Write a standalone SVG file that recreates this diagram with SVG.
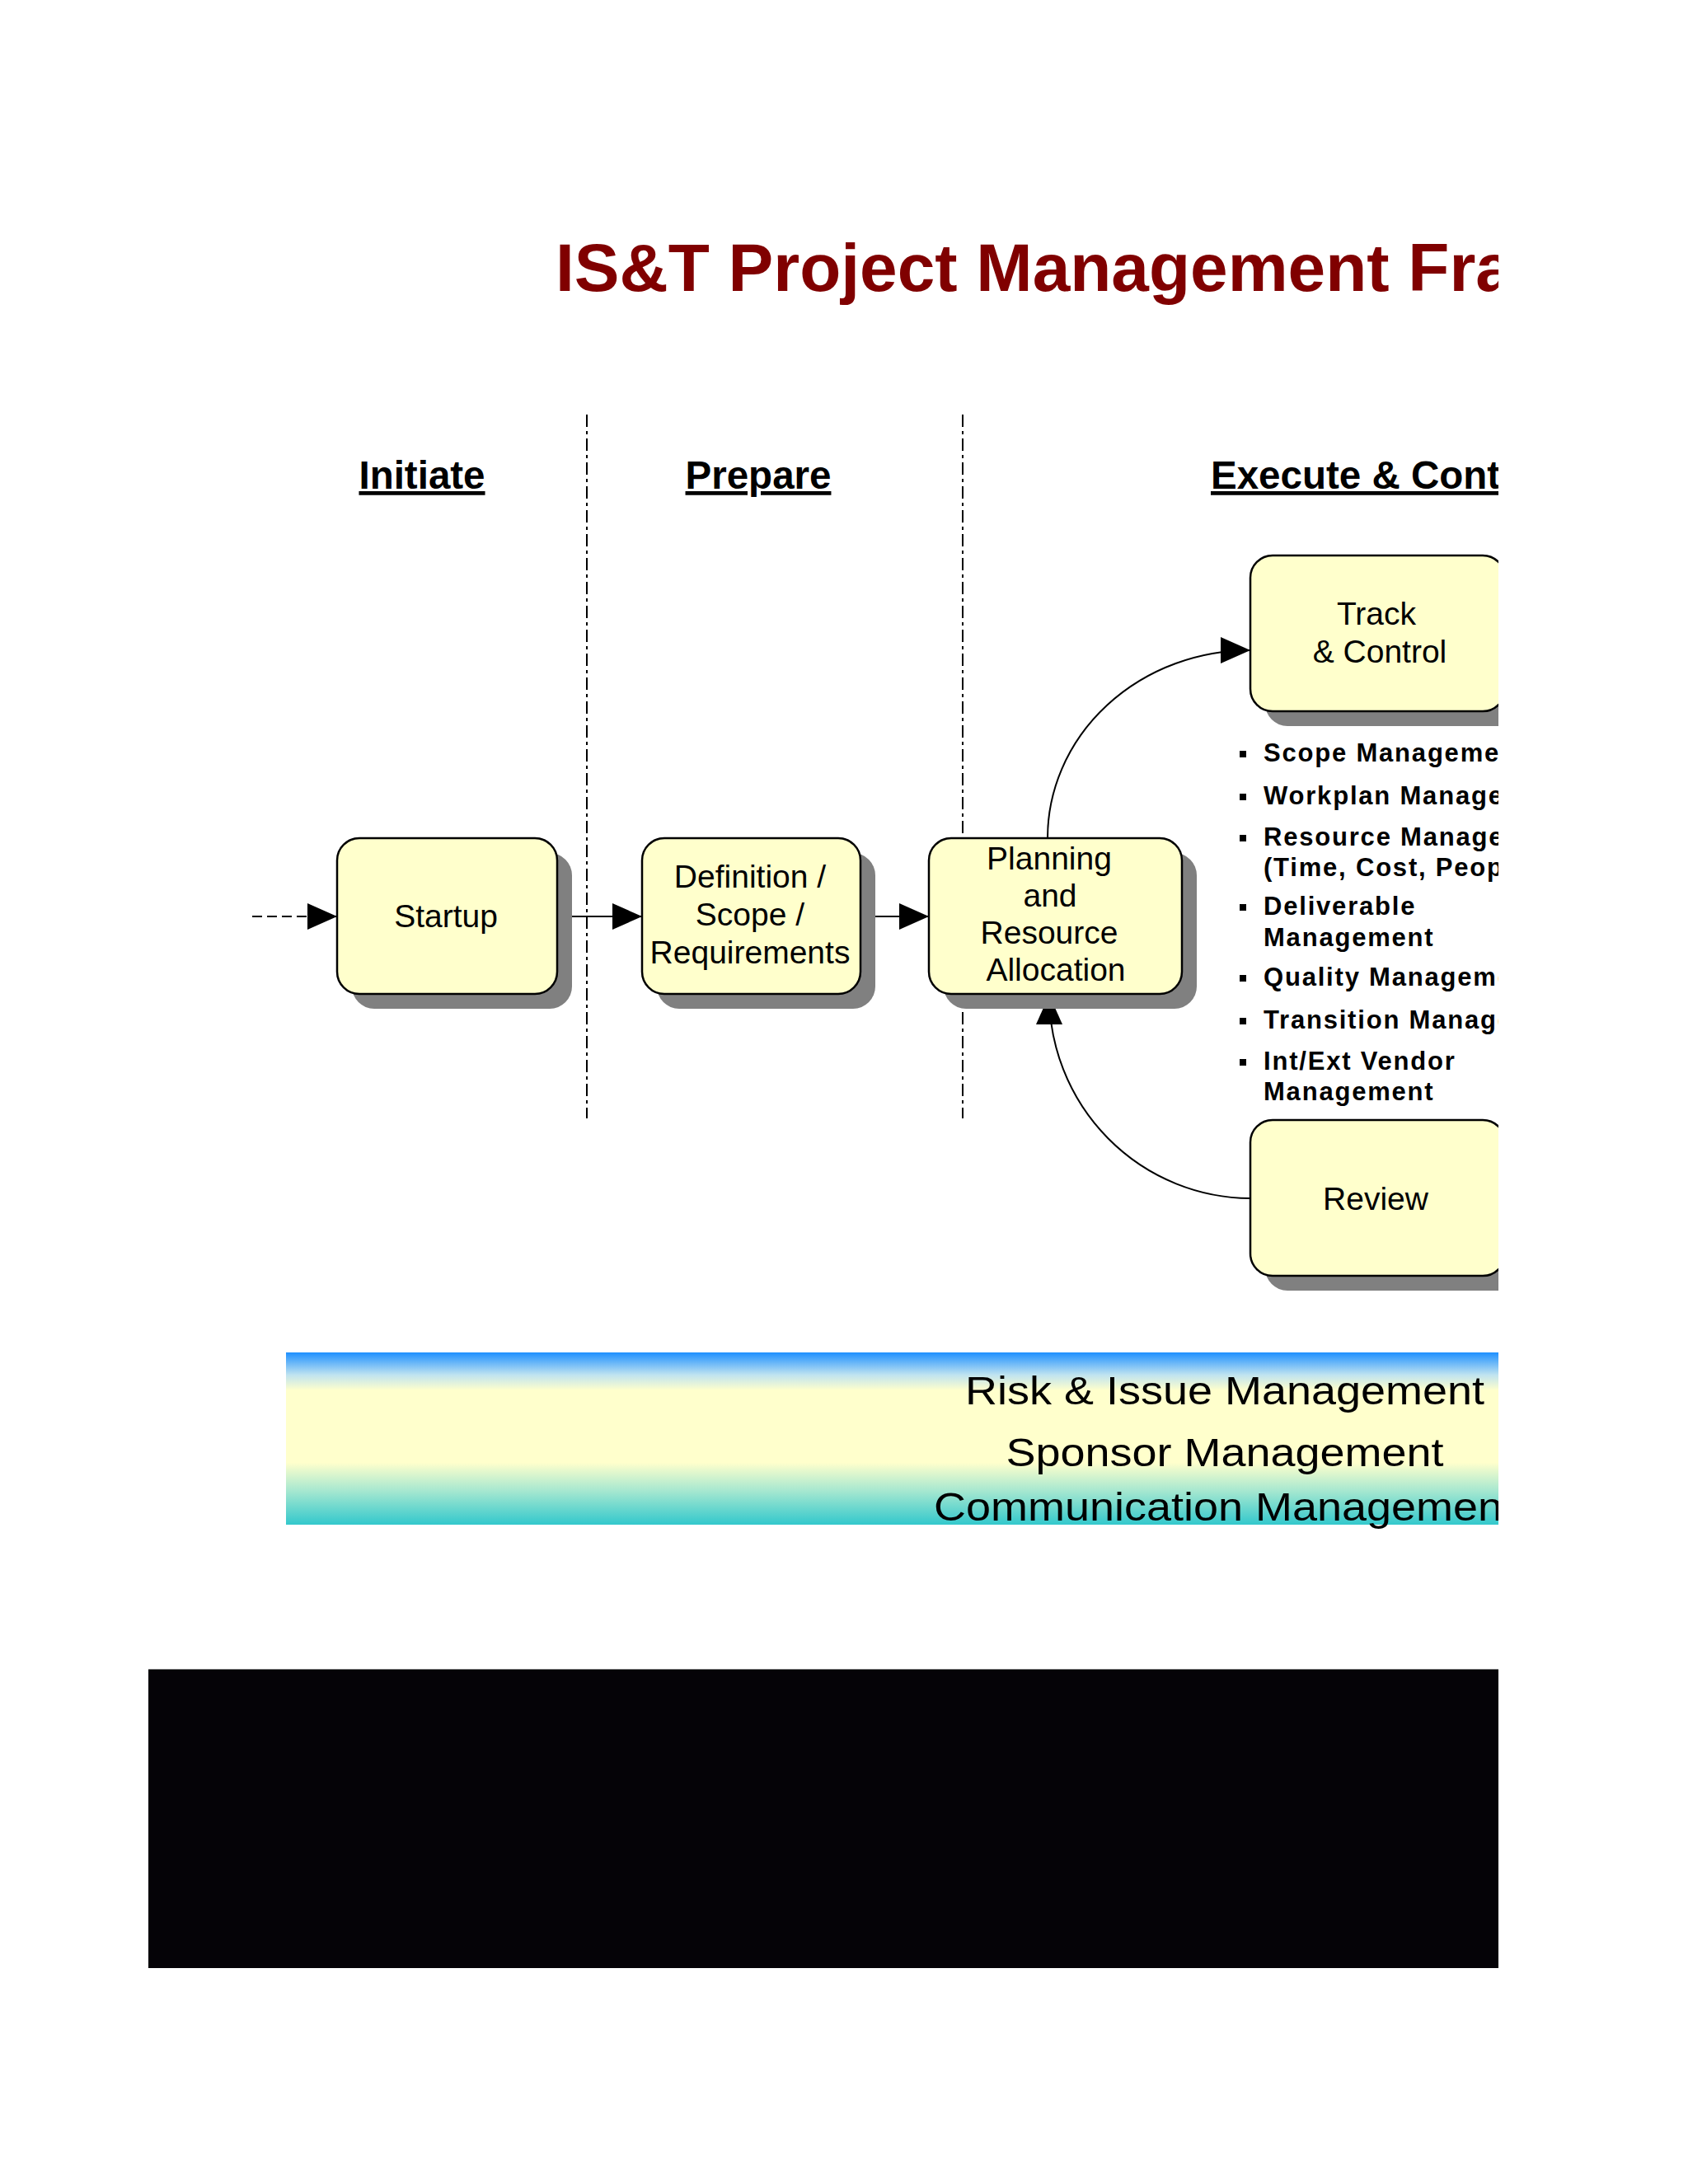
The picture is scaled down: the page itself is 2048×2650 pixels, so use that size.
<svg xmlns="http://www.w3.org/2000/svg" width="2048" height="2650" viewBox="0 0 2048 2650">
<defs>
<style>
.bg{fill:#ffffff}
.shadow{fill:#808080}
.box{fill:#ffffcc;stroke:#000;stroke-width:2.5}
.nt{font-family:"Liberation Sans",Arial,sans-serif;font-size:39px;text-anchor:middle;fill:#000}
.title{font-family:"Liberation Sans",Arial,sans-serif;font-weight:bold;font-size:82px;fill:#800000}
.hdr{font-family:"Liberation Sans",Arial,sans-serif;font-weight:bold;font-size:47.5px;fill:#000;text-decoration:underline;text-decoration-thickness:5px}
.mid{text-anchor:middle}
.bul{font-family:"Liberation Sans",Arial,sans-serif;font-weight:bold;font-size:31px;letter-spacing:1.8px;fill:#000}
.dot{fill:#000}
.band{font-family:"Liberation Sans",Arial,sans-serif;font-size:48px;fill:#000}
.conn{stroke:#000;stroke-width:2;fill:none}
.dashed{stroke-dasharray:12 6}
.divider{stroke:#000;stroke-width:2;stroke-dasharray:15 5 4 5;fill:none}
</style>
<marker id="arrow" markerUnits="userSpaceOnUse" markerWidth="36" markerHeight="32" refX="36" refY="16" orient="auto">
<path d="M0,0 L36,16 L0,32 Z" fill="#000"/>
</marker>
<linearGradient id="bandGrad" x1="0" y1="0" x2="0" y2="1">
<stop offset="0" stop-color="#1e90ff"/>
<stop offset="0.13" stop-color="#bfe3f0"/>
<stop offset="0.22" stop-color="#ffffcc"/>
<stop offset="0.64" stop-color="#ffffcc"/>
<stop offset="0.8" stop-color="#a8e8d0"/>
<stop offset="1" stop-color="#33c8cc"/>
</linearGradient>
<clipPath id="page"><rect x="0" y="0" width="1818" height="2650"/></clipPath>
</defs>
<rect class="bg" x="0" y="0" width="2048" height="2650"/>
<g clip-path="url(#page)">
<g id="title">
<text class="title" x="674" y="353">IS&amp;T Project Management Fra</text>
</g>
<g id="phases">
<text class="hdr mid" x="512" y="593">Initiate</text>
<text class="hdr mid" x="920" y="593">Prepare</text>
<text class="hdr" x="1469" y="593">Execute &amp; Cont</text>
<line class="divider" x1="712" y1="503" x2="712" y2="1357"/>
<line class="divider" x1="1168" y1="503" x2="1168" y2="1357"/>
</g>
<g id="connectors">
<path class="conn dashed" d="M306,1112 L409,1112" marker-end="url(#arrow)"/>
<path class="conn" d="M676,1112 L779,1112" marker-end="url(#arrow)"/>
<path class="conn" d="M1044,1112 L1127,1112" marker-end="url(#arrow)"/>
<path class="conn" d="M1271,1017 A246,228 0 0 1 1517,789" marker-end="url(#arrow)"/>
<path class="conn" d="M1517,1454 A245,247 0 0 1 1273,1207" marker-end="url(#arrow)"/>
</g>
<g id="node-startup">
<rect class="shadow" x="427" y="1035" width="267" height="189" rx="27"/>
<rect class="box" x="409" y="1017" width="267" height="189" rx="27"/>
<text class="nt" x="541" y="1125">Startup</text>
</g>
<g id="node-definition">
<rect class="shadow" x="797" y="1035" width="265" height="189" rx="27"/>
<rect class="box" x="779" y="1017" width="265" height="189" rx="27"/>
<text class="nt" x="910" y="1077">Definition /</text>
<text class="nt" x="910" y="1123">Scope /</text>
<text class="nt" x="910" y="1169">Requirements</text>
</g>
<g id="node-planning">
<rect class="shadow" x="1145" y="1035" width="307" height="189" rx="27"/>
<rect class="box" x="1127" y="1017" width="307" height="189" rx="27"/>
<text class="nt" x="1273" y="1055">Planning</text>
<text class="nt" x="1274" y="1100">and</text>
<text class="nt" x="1273" y="1145">Resource</text>
<text class="nt" x="1281" y="1190">Allocation</text>
</g>
<g id="node-track">
<rect class="shadow" x="1535" y="692" width="309" height="189" rx="27"/>
<rect class="box" x="1517" y="674" width="309" height="189" rx="27"/>
<text class="nt" x="1670" y="758">Track</text>
<text class="nt" x="1674" y="804">&amp; Control</text>
</g>
<g id="node-review">
<rect class="shadow" x="1535" y="1377" width="309" height="189" rx="27"/>
<rect class="box" x="1517" y="1359" width="309" height="189" rx="27"/>
<text class="nt" x="1669" y="1468">Review</text>
</g>
<g id="activities">
<rect class="dot" x="1504" y="911" width="8" height="8"/>
<text class="bul" x="1533" y="924">Scope Manageme</text>
<rect class="dot" x="1504" y="963" width="8" height="8"/>
<text class="bul" x="1533" y="976">Workplan Manage</text>
<rect class="dot" x="1504" y="1013" width="8" height="8"/>
<text class="bul" x="1533" y="1026">Resource Manage</text>
<text class="bul" x="1533" y="1063">(Time, Cost, Peop</text>
<rect class="dot" x="1504" y="1097" width="8" height="8"/>
<text class="bul" x="1533" y="1110">Deliverable</text>
<text class="bul" x="1533" y="1148">Management</text>
<rect class="dot" x="1504" y="1183" width="8" height="8"/>
<text class="bul" x="1533" y="1196">Quality Manageme</text>
<rect class="dot" x="1504" y="1235" width="8" height="8"/>
<text class="bul" x="1533" y="1248">Transition Manage</text>
<rect class="dot" x="1504" y="1285" width="8" height="8"/>
<text class="bul" x="1533" y="1298">Int/Ext Vendor</text>
<text class="bul" x="1533" y="1335">Management</text>
</g>
<g id="band">
<rect x="347" y="1641" width="1471" height="209" fill="url(#bandGrad)"/>
<text class="band mid" x="1486" y="1704" textLength="630" lengthAdjust="spacingAndGlyphs">Risk &amp; Issue Management</text>
<text class="band mid" x="1486" y="1779" textLength="531" lengthAdjust="spacingAndGlyphs">Sponsor Management</text>
<text class="band" x="1133" y="1845" textLength="690" lengthAdjust="spacingAndGlyphs">Communication Managemen</text>
</g>
<g id="black-panel">
<rect x="180" y="2025" width="1638" height="363" fill="#050307"/>
<line x1="180" y1="2025.5" x2="1818" y2="2025.5" stroke="#777" stroke-width="1"/>
</g>
</g>
</svg>
